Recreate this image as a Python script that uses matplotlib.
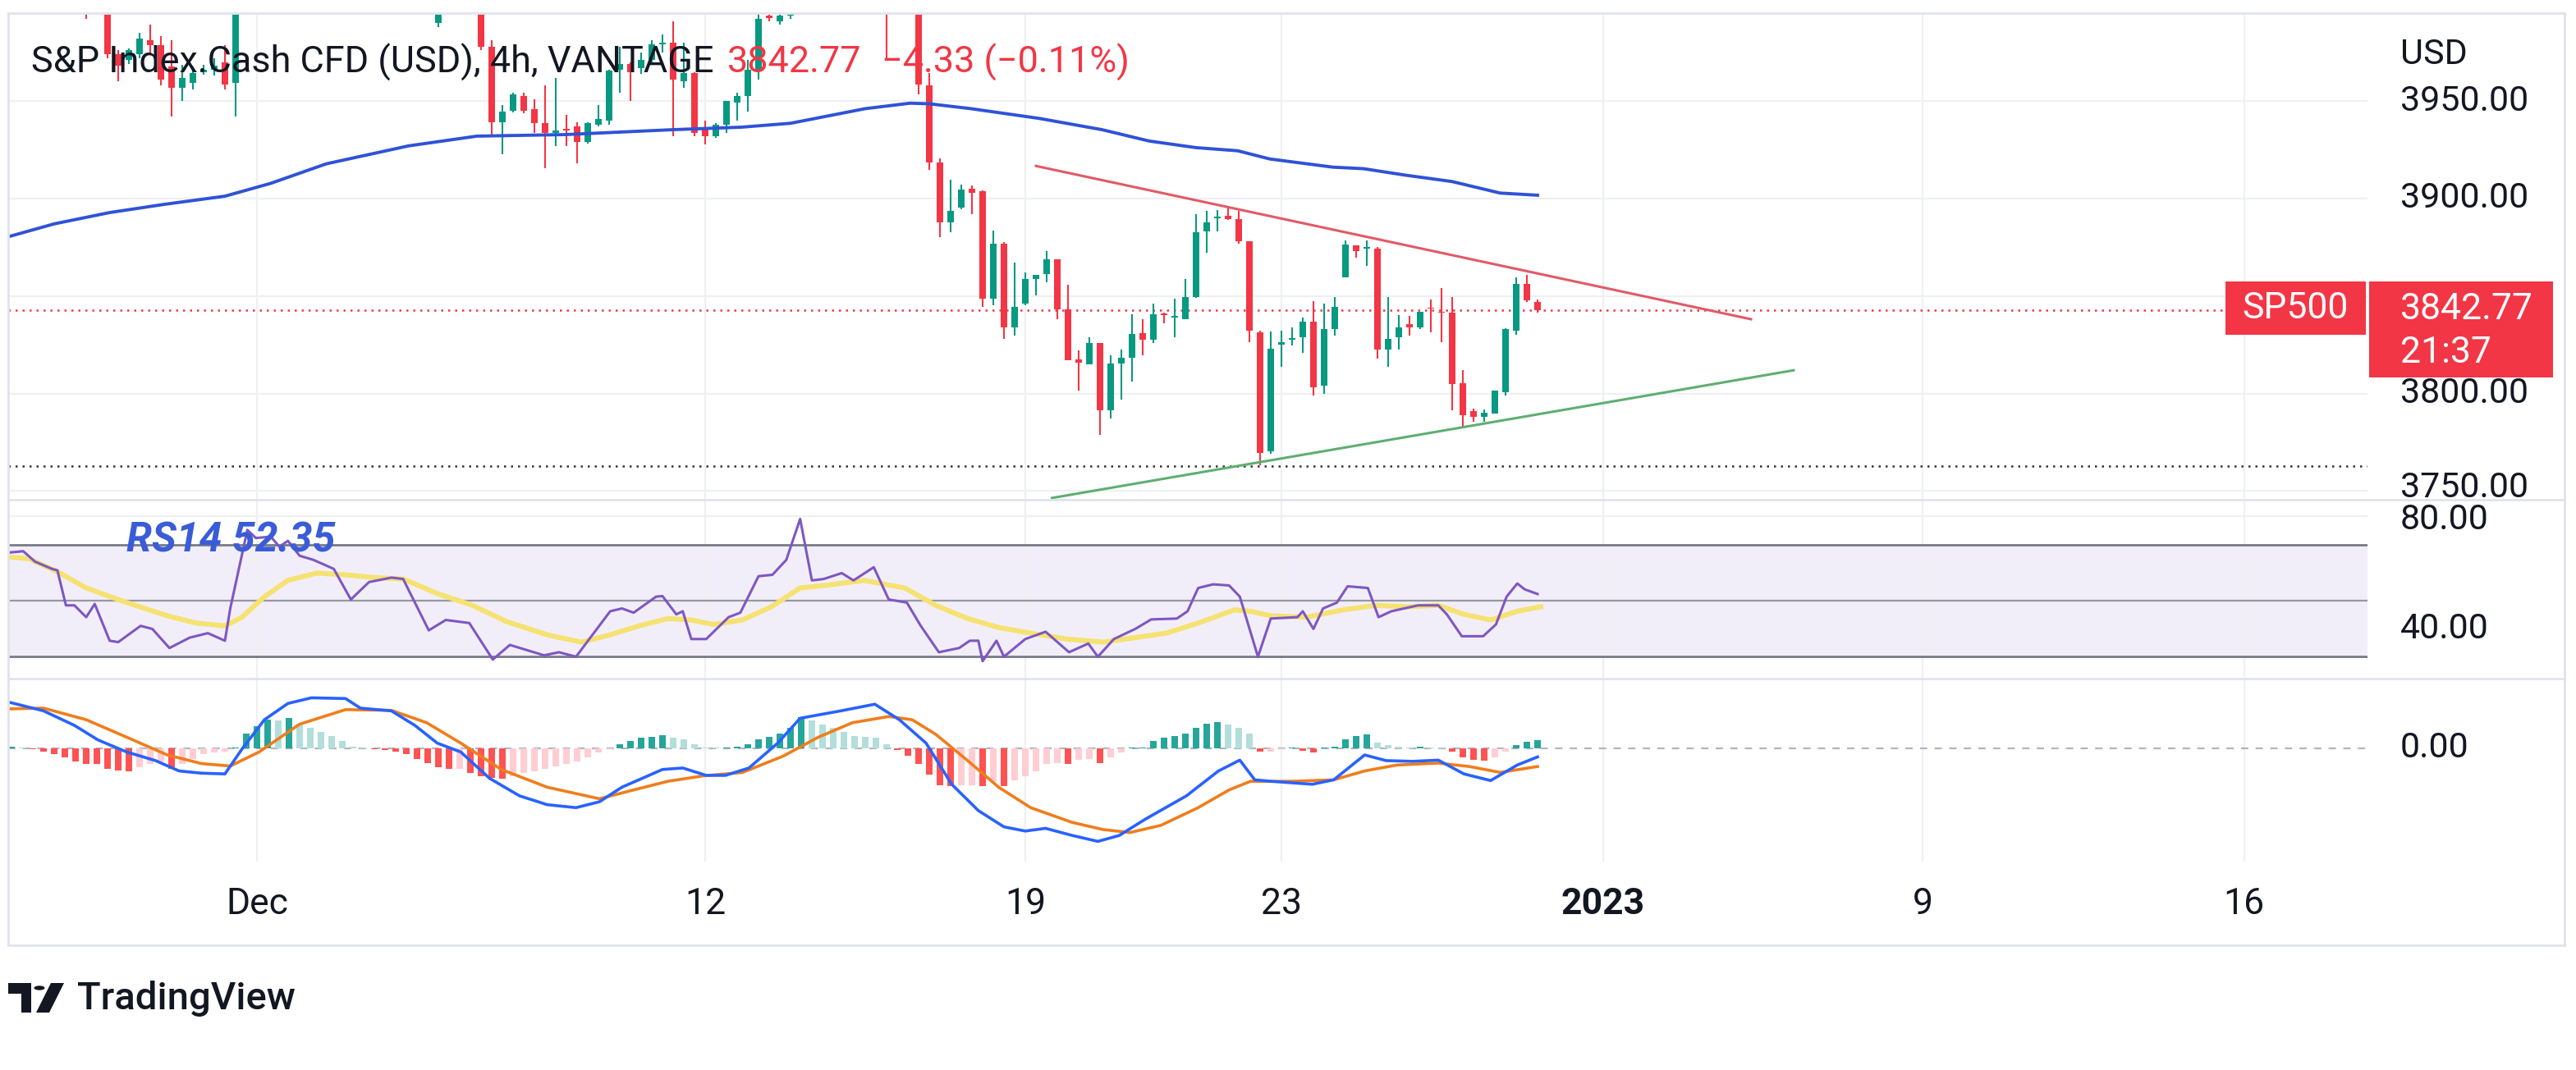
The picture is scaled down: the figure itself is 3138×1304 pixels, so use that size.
import matplotlib

matplotlib.use("Agg")
import matplotlib.pyplot as plt
from matplotlib.lines import Line2D
from matplotlib.patches import Circle, Polygon, Rectangle
from matplotlib.transforms import offset_copy

W, H, DPI = 3138, 1304, 200
plt.rcParams["font.family"] = ["Roboto", "DejaVu Sans"]

# 4h candles, bar 0 = Nov 25, last bar = Dec 29 (price scale: USD)
opens = [4020, 4024, 4018, 4022, 4030, 4026, 4012, 4006, 3998, 4008,
         3974, 3971, 3974, 3981, 3978.5, 3967.7, 3957, 3959.4, 3965, 3966,
         3970, 3959.4, 4030, 4048, 4082, 4078, 4072, 4080, 4074, 4076,
         4046, 4056, 4068, 4074, 4070, 4072, 4052, 4034, 4018, 4006,
         3990, 3999, 4006, 4002, 4000, 3977.7, 3939, 3945, 3952.7, 3946,
         3938.6, 3933.6, 3935.6, 3937, 3929, 3937.8, 3940, 3966, 3969, 3966.9,
         3971, 3979, 3980, 3960, 3964.4, 3936, 3932, 3937.8, 3949.4, 3952.7,
         3966, 3994, 3991, 3994, 4060, 4052, 4028, 4020, 4024, 4018,
         4026, 4032, 4010, 3998, 4006, 4002, 3958, 3918.3, 3887.9, 3895.3,
         3905, 3903.7, 3848.8, 3877, 3833.8, 3846.3, 3858.7, 3861.2, 3868.7, 3843,
         3817.5, 3815.1, 3825.8, 3791.3, 3815.5, 3818.5, 3830.8, 3827.5, 3841, 3839,
         3838, 3849.6, 3883, 3890, 3891.2, 3889.5, 3877.9, 3831.3, 3770.5, 3825,
         3827.7, 3828.8, 3837, 3803.8, 3833, 3859.6, 3875.9, 3874.3, 3874.5, 3822.5,
         3828.8, 3835.4, 3833.8, 3844, 3842, 3841.3, 3805.2, 3790.8, 3788, 3789.7,
         3800.5, 3832, 3856.2, 3847.1]
highs = [4028, 4030, 4026, 4034, 4036, 4030, 4020, 4012, 4012, 4010,
         3976, 3977, 3985, 3989, 3983.5, 3981, 3968.5, 3967.7, 3968.5, 3972,
         3978.5, 4035, 4052, 4090, 4095, 4086, 4084, 4088, 4082, 4080,
         4060, 4072, 4078, 4080, 4076, 4076, 4058, 4040, 4024, 4012,
         4002, 4010, 4012, 4008, 4004, 3981, 3948, 3954.4, 3954.4, 3951,
         3958, 3962, 3943, 3939, 3939, 3948, 3966, 3977.7, 3970, 3975,
         3981, 3984, 3991, 3980, 3965, 3940, 3938.6, 3950, 3954.4, 3971,
         3998, 3999, 3998, 4102, 4072, 4060, 4036, 4030, 4034, 4030,
         4038, 4036, 4014, 4010, 4012, 4006, 3964.4, 3920.8, 3909.5, 3907,
         3906.8, 3904, 3883.7, 3877.5, 3867, 3862, 3861, 3872.9, 3869, 3855.7,
         3822, 3828.8, 3826, 3819.6, 3822.5, 3840.5, 3837.9, 3845.9, 3841.5, 3848.8,
         3858.7, 3892, 3893.7, 3894, 3895.3, 3893.7, 3878, 3832, 3831.8, 3832,
         3833.8, 3838.8, 3847.4, 3846.3, 3849.6, 3878.7, 3876, 3878.7, 3875, 3849.6,
         3840.4, 3839.6, 3842, 3848, 3854, 3849.6, 3812.1, 3792.2, 3792, 3801.5,
         3833.5, 3859.6, 3860.7, 3848]
lows = [4012, 4016, 4010, 4018, 4020, 4008, 4002, 3992, 3997, 3972,
        3960, 3969, 3972, 3974, 3958, 3942, 3950, 3956, 3963.6, 3963,
        3956, 3942, 4026, 4044, 4070, 4066, 4064, 4070, 4062, 4040,
        4036, 4050, 4060, 4064, 4060, 4048, 4030, 4012, 4000, 3996,
        3988, 3996, 3998, 3997, 3976, 3932, 3922.8, 3944, 3943.6, 3933.6,
        3915.6, 3927, 3927, 3918, 3928, 3937, 3938, 3954.4, 3950, 3964,
        3970, 3975, 3932, 3957, 3932, 3927.8, 3931, 3933.6, 3940, 3944.4,
        3961, 3991, 3989, 3992, 4040, 4020, 4012, 4010, 4014, 4008,
        4016, 4004, 3971, 3996, 3998, 3953.6, 3914.5, 3880.4, 3882.9, 3894.5,
        3892, 3844.6, 3845.4, 3828, 3829.6, 3845.4, 3850.4, 3857.1, 3838, 3817,
        3801.3, 3815, 3778.9, 3787.2, 3796.9, 3806.3, 3819.6, 3826, 3835.8, 3829,
        3838, 3849, 3872, 3883, 3889, 3877, 3826.3, 3763, 3769, 3813.8,
        3824.6, 3821, 3798.8, 3799.7, 3829.6, 3859.6, 3869.6, 3865.4, 3818, 3813.8,
        3822.5, 3829.6, 3833, 3831.3, 3826.3, 3791.3, 3783, 3785.5, 3785.5, 3789.5,
        3799, 3830, 3847, 3841.3]
closes = [4024, 4018, 4022, 4030, 4026, 4012, 4006, 3998, 4008, 3974,
          3968, 3976, 3982, 3978.5, 3961, 3957, 3962, 3964.4, 3966, 3968,
          3958.6, 4030, 4048, 4082, 4078, 4072, 4080, 4074, 4076, 4046,
          4056, 4068, 4074, 4070, 4072, 4052, 4034, 4018, 4006, 4000,
          3999, 4006, 4002, 4000, 3977.7, 3939, 3944.4, 3953.6, 3945, 3938.6,
          3933.6, 3935, 3935, 3929, 3938.6, 3941, 3965.5, 3969, 3965, 3971,
          3979, 3980, 3961, 3964.4, 3933.6, 3932, 3937.8, 3950, 3952.7, 3966,
          3992, 3992.7, 3994, 4060, 4052, 4028, 4020, 4024, 4018, 4026,
          4032, 4010, 3998, 4006, 4002, 3958.6, 3918.6, 3887.9, 3893.7, 3904.5,
          3903, 3848.8, 3877, 3833.8, 3844.6, 3858.7, 3860.7, 3868.7, 3843, 3817,
          3816, 3825.8, 3791.3, 3815.5, 3818.5, 3830.5, 3827.5, 3840.8, 3840, 3839.5,
          3849.6, 3882.9, 3887.9, 3890.7, 3889.5, 3877.9, 3832.1, 3769.7, 3823, 3826.5,
          3828.5, 3837, 3803, 3833, 3844.6, 3876.2, 3872.9, 3875, 3822.5, 3828,
          3833.8, 3833.8, 3841.8, 3843.5, 3841.3, 3804.7, 3788.8, 3788, 3790.2, 3801.3,
          3833, 3856.2, 3847.9, 3842.77]

# moving average on price (bar position, value)
ma_x = [-0.3, 4, 9.2, 14.3, 20, 24.3, 29.5, 37.2, 43.6, 51.9, 61.9, 68.4, 73, 80, 84.2,
        86, 89.9, 96.3, 102.2, 106.6, 111, 114.9, 117.9, 123.8, 126.7, 130.6, 135, 139.5, 143]
ma_v = [3880.4, 3887, 3892.8, 3897, 3901.2, 3907.8, 3917.8, 3927, 3932, 3932.8, 3935.3, 3936.6,
        3938.6, 3946.1, 3948.9, 3948.6, 3946.1, 3941.1, 3935.3, 3929.5, 3926.1, 3924.5, 3920.3,
        3916.1, 3915.3, 3912, 3908.7, 3902.8, 3901.7]

# drawn trend lines and levels
resist_x, resist_v = [96.0, 163.0], [3916.7, 3838.1]
support_x, support_v = [97.5, 167.0], [3746.4, 3811.9]
low_level = 3762.7
last_price = 3842.77

# RSI(14) and its moving average
rsi_x = [-0.3, 1.1, 2.2, 3.8, 4.3, 5.1, 5.9, 7, 7.8, 9.2, 10, 12.1, 13.2, 14.8, 16.7, 18.4, 20,
         20.5, 22.1, 22.9, 24.3, 25.1, 25.9, 27, 28.3, 30.2, 31.8, 33.5, 35.6, 36.7, 39.1, 40.7,
         42.9, 45.1, 46.7, 49.9, 51.3, 52.9, 56.1, 57.2, 58.3, 60.4, 61, 62.3, 62.9, 63.7, 65.1,
         67.2, 68.3, 70, 71.3, 72.6, 73.9, 75, 76.1, 77.8, 78.9, 80.8, 82.2, 83.9, 85.2, 86.9,
         88.8, 89.8, 90.6, 91, 92.3, 93, 95, 96.9, 99.1, 100.9, 101.8, 103.3, 105.3, 106.8,
         109.2, 110.2, 111.2, 112.6, 114.1, 115.1, 116.8, 118, 120.5, 121, 122, 122.9, 124.2,
         125.2, 127.1, 128.1, 129.3, 131.8, 133.7, 134.5, 135.9, 137.9, 139.1, 140.1, 141.1,
         141.8, 143]
rsi_v = [67.1, 67.6, 63.9, 61.3, 60.8, 48.3, 48.3, 44.1, 48.8, 35.7, 35.2, 41, 39.9, 33.1, 36.8,
         38.4, 35.7, 47.2, 75.2, 72.3, 72.8, 69.2, 71.3, 66, 64.5, 61.3, 50.4, 56.6, 58.2, 57.7,
         39.4, 43.1, 42, 29, 34.2, 30.5, 31.6, 30, 46.2, 47.2, 45.7, 51.4, 51.6, 45.1, 46.2, 36.3,
         36.3, 44.1, 45.7, 58.7, 59.2, 64.5, 79.1, 57.2, 57.7, 59.8, 57.2, 61.9, 50.4, 49.3, 41,
         31.6, 33.1, 35.7, 35.7, 28.4, 35.7, 30, 36.3, 38.9, 31.6, 34.7, 30, 36.3, 39.9, 43.3,
         43.6, 46.2, 54.5, 55.8, 55.4, 51.4, 30, 43.6, 44.1, 46.2, 39.9, 47.2, 49.3, 55.1, 54.5,
         44.1, 46.2, 48.3, 48.3, 45.1, 37.3, 37.3, 41.5, 51.4, 56.1, 54, 52.35]
rsi_ma_x = [-0.3, 1.6, 4.3, 7, 10.8, 14.6, 17.3, 20, 21.6, 23.7, 25.9, 28.6, 31.3, 34, 36.7, 39.9,
            43.2, 46.4, 50.2, 53.4, 56.1, 58.8, 61.5, 63.7, 65.8, 68.5, 71.2, 73.9, 76.6, 79.9,
            83.7, 86.6, 89.6, 92.5, 95.5, 98.9, 102.3, 105.3, 108.2, 111.2, 114.6, 116.1, 118,
            121.4, 124.8, 127.8, 130.7, 133.7, 136.1, 138.6, 141.1, 143.3]
rsi_ma_v = [65.5, 65, 60.3, 54.5, 49.3, 44.6, 42, 41, 44.1, 51.4, 57.2, 59.8, 59.2, 58.2, 57.7,
            52.5, 48.3, 42.5, 37.8, 35.2, 37.8, 41, 43.6, 43.1, 41.5, 43.1, 47.8, 54.5, 55.6, 57.2,
            54.5, 48.3, 43.6, 40.4, 38.4, 36.3, 35.2, 36.8, 38.4, 42, 46.7, 46.2, 44.6, 44.1, 46.7,
            48.3, 47.8, 48.3, 45.1, 43.1, 46.2, 47.8]

# MACD line, signal line and histogram (one bar per candle)
macd_x = [-0.3, 3, 5.9, 8.1, 10.8, 13.5, 15.7, 17.8, 20, 21.6, 23.7, 25.9, 28.1, 31.3, 32.7, 35.6,
          37.8, 39.9, 42.1, 44.8, 47.6, 50.2, 52.9, 55.1, 57.2, 61, 62.9, 65.1, 66.9, 69.1, 71.8,
          73.9, 77.7, 80.9, 83.2, 85.7, 88.1, 90.6, 93, 95, 96.9, 99.4, 101.8, 103.8, 106.2, 110.1,
          113.1, 115.1, 116.5, 118, 121.9, 123.9, 126.8, 128.8, 131.3, 133.7, 136.1, 138.6, 141.1, 143]
macd_v = [18.8, 15.2, 9.3, 3.4, -1.5, -5.0, -9.2, -10.1, -10.4, -0.3, 11.6, 18.2, 20.5, 20.2, 16.3,
          15.2, 9.3, 2.1, -1.5, -12.2, -19.3, -22.9, -24.1, -21.7, -15.8, -8.6, -8.0, -11.0, -11.0,
          -8.0, 2.1, 12.2, 15.2, 17.9, 11.6, 2.1, -14.6, -25.3, -31.9, -33.6, -32.5, -35.4, -37.8,
          -35.4, -28.9, -19.3, -9.2, -4.8, -12.8, -13.4, -14.6, -12.8, -2.7, -5.0, -5.3, -4.8,
          -10.4, -13.1, -6.8, -3.5]
signal_x = [-0.3, 3, 7, 10.8, 14.6, 17.8, 20.5, 23.2, 27, 31.3, 35.6, 38.9, 42.1, 45.9, 50.2, 55.1,
            58.3, 61.5, 64.8, 68.5, 72.3, 75.6, 78.8, 82.2, 84.4, 86.6, 89.6, 92.5, 95.5, 99.4,
            102.3, 104.8, 107.7, 111.2, 114.1, 116.1, 120, 123.9, 126.8, 129.8, 133.7, 136.6, 139.5, 143]
signal_v = [16.0, 16.3, 11.6, 4.5, -2.7, -6.2, -7.2, -1.5, 9.8, 15.7, 15.4, 10.4, 2.1, -8.6, -15.8,
            -20.5, -16.9, -13.4, -11.2, -9.8, -3.2, 4.5, 10.4, 12.9, 11.6, 5.7, -5.0, -15.8, -24.1,
            -30.1, -33.0, -34.2, -31.3, -24.1, -16.9, -13.4, -13.4, -12.8, -9.2, -6.8, -6.0, -7.4,
            -9.8, -7.4]
macd_hist = [0.5, 0.3, -0.4, -1.2, -2.4, -3.6, -5.4, -6.3, -6.5, -8.3,
             -8.9, -9.2, -7.7, -6.5, -5.4, -8.3, -6.5, -4.2, -2.4, -1.8,
             -1.2, 0.3, 6.0, 8.9, 11.6, 11.2, 12.3, 10.1, 8.3, 6.5,
             5.1, 3.0, 0.8, 0.2, -0.3, -0.8, -1.2, -2.4, -4.2, -6.0,
             -7.7, -8.3, -8.3, -10.1, -11.3, -11.9, -12.3, -11.3, -10.1, -9.5,
             -8.3, -7.5, -6.5, -5.4, -3.6, -1.8, -0.4, 1.8, 3.0, 4.2,
             4.8, 5.4, 4.2, 3.6, 1.8, 0.4, 0.2, 0.4, 0.8, 1.8,
             3.6, 4.8, 6.0, 8.3, 12.5, 11.3, 9.5, 8.3, 6.5, 5.1,
             4.8, 4.4, 1.8, -0.6, -3.0, -6.5, -10.7, -14.9, -15.5, -14.9,
             -14.9, -15.5, -13.7, -15.5, -13.1, -11.3, -9.5, -6.5, -6.0, -6.3,
             -4.8, -4.2, -6.0, -3.6, -1.8, 0.4, 0.4, 3.0, 4.2, 5.1,
             6.0, 8.3, 9.9, 10.7, 9.5, 8.3, 6.0, -1.2, -1.2, -0.3,
             0.2, -1.0, -1.8, 0.4, 0.8, 3.6, 5.1, 5.6, 2.4, 1.2,
             0.8, 0.4, 0.5, 0.4, 0.2, -1.5, -3.6, -4.8, -5.1, -3.6,
             -1.5, 1.2, 2.7, 3.2]

date_pos = [23, 65, 95, 119, 149.15, 179.1, 209.2]
date_labels = ["Dec", "12", "19", "23", "2023", "9", "16"]
price_ticks = [3750, 3800, 3850, 3900, 3950]
price_labels = ["3750.00", "3800.00", None, "3900.00", "3950.00"]

GREEN = "#089981"
RED = "#f23645"
TEXT = "#131722"
GRID = "#eef0f4"
FRAME = "#e0e3eb"

# pixel layout of the screenshot
PL, PR, SR = 10, 2884, 3124
PT, PB, RB, MB, FB = 16, 609, 827, 1050, 1152
XLIM = ((PL - 14) / 13, (PR - 14) / 13)


def box(x0, y0, x1, y1):
    return [x0 / W, 1 - y1 / H, (x1 - x0) / W, (y1 - y0) / H]


def fx(x):
    return x / W


def fy(y):
    return 1 - y / H


def clean(ax):
    for s in ax.spines.values():
        s.set_visible(False)
    ax.tick_params(length=0, labelbottom=False, labelleft=False)
    ax.set_axisbelow(True)


def scale_label(ax, v, text, nudge=0.0):
    # nudge is in points, positive moves the label up
    tr = offset_copy(ax.get_yaxis_transform(), fig=ax.figure, x=0, y=nudge, units="points")
    t = ax.text(0.167, v, text, transform=tr, va="center", ha="left", fontsize=15.5, color=TEXT)
    t.set_clip_path(None)
    t.set_clip_box(ax.bbox)
    t.set_clip_on(True)
    return t


fig = plt.figure(figsize=(W / DPI, H / DPI), dpi=DPI)
fig.patch.set_facecolor("white")

# ---------- price panel ----------
ax_p = fig.add_axes(box(PL, PT, PR, PB))
ax_p.set_xlim(*XLIM)
ax_p.set_ylim(3745.5, 3995.1)
clean(ax_p)
ax_p.set_xticks(date_pos)
ax_p.set_yticks(price_ticks)
ax_p.grid(color=GRID, lw=0.8)

xs = list(range(len(closes)))
colors = [GREEN if c >= o else RED for o, c in zip(opens, closes)]
ax_p.vlines(xs, lows, highs, colors=colors, lw=0.75, zorder=3)
bottoms = [min(o, c) for o, c in zip(opens, closes)]
heights = [max(abs(c - o), 0.6) for o, c in zip(opens, closes)]
ax_p.bar(xs, heights, bottom=bottoms, width=0.56, color=colors, lw=0, zorder=4)

ax_p.plot(ma_x, ma_v, color="#2f52d6", lw=1.4, zorder=5)
ax_p.plot(resist_x, resist_v, color="#e25a66", lw=1.1, zorder=5)
ax_p.plot(support_x, support_v, color="#5fae72", lw=1.1, zorder=5)
ax_p.plot([XLIM[0], (2708 - 14) / 13], [last_price] * 2, color=RED, lw=0.9,
          dashes=(1, 2.4), zorder=2)
ax_p.plot(XLIM, [low_level] * 2, color="#333333", lw=0.9, dashes=(1, 2.4), zorder=2)

ax_ps = fig.add_axes(box(PR, PT, SR, PB))
ax_ps.set_ylim(3745.5, 3995.1)
ax_ps.axis("off")
for v, lab in zip(price_ticks, price_labels):
    if lab:
        scale_label(ax_ps, v, lab, nudge=1.5 if v == 3750 else 0.0)
fig.text(fx(2924), fy(66), "USD", fontsize=15.5, color=TEXT, va="center", ha="left")

# ---------- RSI panel ----------
ax_r = fig.add_axes(box(PL, PB, PR, RB))
ax_r.set_xlim(*XLIM)
ax_r.set_ylim(22.2, 85.96)
clean(ax_r)
ax_r.set_xticks(date_pos)
ax_r.set_yticks([40, 80])
ax_r.grid(color=GRID, lw=0.8)
ax_r.axhspan(30, 70, color="#f2eef9", zorder=0)
ax_r.axhline(70, color="#787b86", lw=1.0, zorder=1)
ax_r.axhline(30, color="#787b86", lw=1.0, zorder=1)
ax_r.axhline(50, color="#9598a1", lw=0.8, zorder=1)
ax_r.plot(rsi_ma_x, rsi_ma_v, color="#f5e272", lw=2.2, zorder=3)
ax_r.plot(rsi_x, rsi_v, color="#7e57c2", lw=1.1, zorder=4)
ax_r.text((154 - 14) / 13, 71.3, "RS14 52.35", fontsize=18, fontweight="bold",
          fontstyle="italic", color="#3a5cd8", va="center", ha="left", zorder=6)

ax_rs = fig.add_axes(box(PR, PB, SR, RB))
ax_rs.set_ylim(22.2, 85.96)
ax_rs.axis("off")
for v in (80, 40):
    scale_label(ax_rs, v, f"{v:.2f}", nudge=-1.5 if v == 80 else 0.0)

# ---------- MACD panel ----------
ax_m = fig.add_axes(box(PL, RB, PR, MB))
ax_m.set_xlim(*XLIM)
ax_m.set_ylim(-46.0, 28.3)
clean(ax_m)
ax_m.set_xticks(date_pos)
ax_m.set_yticks([])
ax_m.grid(axis="x", color=GRID, lw=0.8)
ax_m.axhline(0, color="#b2b5be", lw=0.8, dashes=(4, 4), zorder=1)

hist_colors = []
prev = 0
for v in macd_hist:
    if v >= 0:
        hist_colors.append("#26a69a" if v >= prev else "#b2dfdb")
    else:
        hist_colors.append("#ff5252" if v < prev else "#ffcdd2")
    prev = v
ax_m.bar(range(len(macd_hist)), macd_hist, width=0.62, color=hist_colors, lw=0, zorder=2)
ax_m.plot(signal_x, signal_v, color="#f07d1c", lw=1.3, zorder=3)
ax_m.plot(macd_x, macd_v, color="#2962ff", lw=1.3, zorder=4)

ax_m.tick_params(labelbottom=True, pad=11, labelsize=16, labelcolor=TEXT)
ax_m.set_xticklabels(date_labels)
ax_m.get_xticklabels()[4].set_fontweight("bold")

ax_ms = fig.add_axes(box(PR, RB, SR, MB))
ax_ms.set_ylim(-46.0, 28.3)
ax_ms.axis("off")
scale_label(ax_ms, 0, "0.00")

# ---------- header, price tags, frame ----------
fig.text(fx(38), fy(76), "S&P Index.Cash CFD (USD), 4h, VANTAGE", fontsize=16.2,
         color=TEXT, va="center", ha="left")
fig.text(fx(886), fy(76), "3842.77", fontsize=16.2, color=RED, va="center", ha="left")
fig.text(fx(1074), fy(76), "\u22124.33 (\u22120.11%)", fontsize=16.2, color=RED,
         va="center", ha="left")

fig.add_artist(Rectangle((fx(2711), fy(408)), (2882 - 2711) / W, (408 - 343) / H,
                         transform=fig.transFigure, color=RED, lw=0))
fig.add_artist(Rectangle((fx(2886), fy(460)), (3110 - 2886) / W, (460 - 343) / H,
                         transform=fig.transFigure, color=RED, lw=0))
fig.text(fx(2796), fy(376), "SP500", fontsize=16, color="white", va="center", ha="center")
fig.text(fx(2924), fy(377), "3842.77", fontsize=16, color="white", va="center", ha="left")
fig.text(fx(2924), fy(430), "21:37", fontsize=16, color="white", va="center", ha="left")

for (x0, y0, x1, y1) in [(PL, PT, SR, PT), (PL, FB, SR, FB), (PL, PT, PL, FB),
                         (SR, PT, SR, FB), (PL, PB, SR, PB), (PL, RB, SR, RB)]:
    fig.add_artist(Line2D([fx(x0), fx(x1)], [fy(y0), fy(y1)], color=FRAME, lw=1.0))

# TradingView logo
fig.add_artist(Polygon([(fx(10), fy(1198)), (fx(38), fy(1198)), (fx(38), fy(1234)),
                        (fx(26), fy(1234)), (fx(26), fy(1211)), (fx(10), fy(1211))],
                       closed=True, transform=fig.transFigure, color=TEXT, lw=0))
fig.add_artist(Circle((fx(48), fy(1204)), 6.5 / W, transform=fig.transFigure, color=TEXT, lw=0))
fig.add_artist(Polygon([(fx(44), fy(1234)), (fx(62), fy(1198)), (fx(78), fy(1198)),
                        (fx(60), fy(1234))], closed=True, transform=fig.transFigure,
                       color=TEXT, lw=0))
fig.text(fx(94), fy(1217), "TradingView", fontsize=17, fontweight="medium", color=TEXT,
         va="center", ha="left")

fig.savefig("out.png", dpi=DPI, facecolor="white")
